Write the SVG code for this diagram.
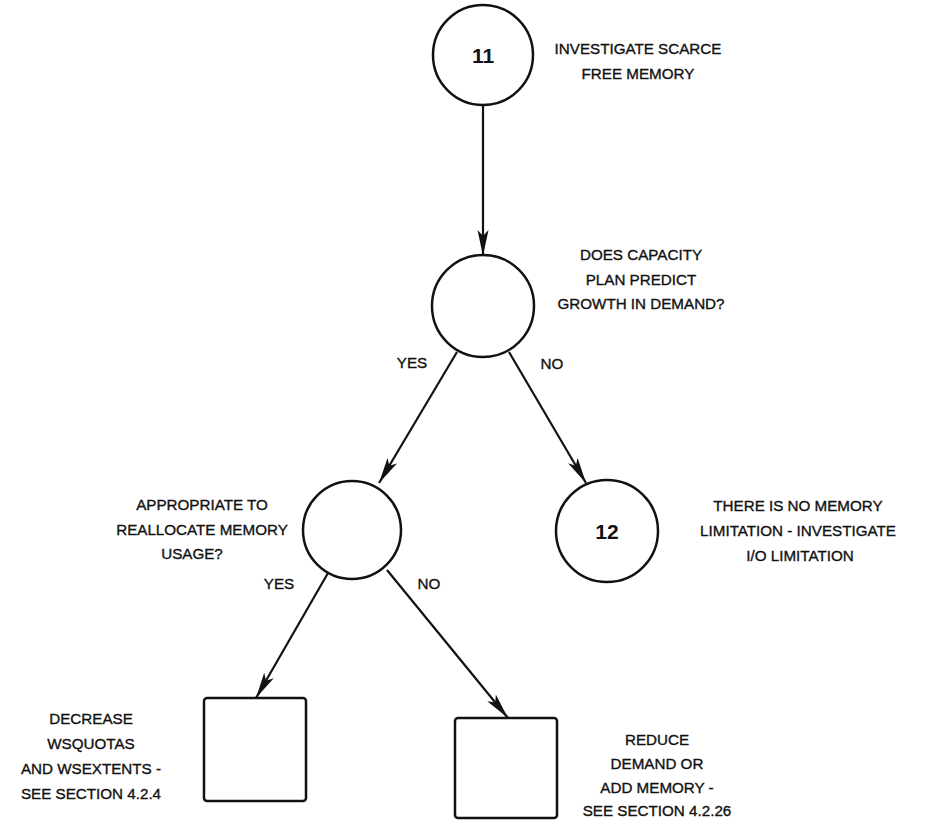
<svg xmlns="http://www.w3.org/2000/svg" width="939" height="820" viewBox="0 0 939 820">
<style>
.n{fill:#fff;stroke:#111;stroke-width:2.5}
.t{font-family:"Liberation Sans",Arial,sans-serif;font-size:15.2px;fill:#111;stroke:#111;stroke-width:0.35;text-anchor:middle}
.num{font-family:"Liberation Sans",Arial,sans-serif;font-size:21px;font-weight:bold;fill:#111;text-anchor:middle}
.c{stroke:#111;stroke-width:2.2;fill:none;marker-end:url(#ah)}
</style>
<defs>
<marker id="ah" markerUnits="userSpaceOnUse" markerWidth="28" markerHeight="12" refX="26" refY="6" orient="auto">
<path d="M0,0.5 L26,6 L0,11.5 L6,6 Z" fill="#111"/>
</marker>
</defs>
<rect width="939" height="820" fill="#fff"/>
<g id="connectors">
<line class="c" x1="483" y1="105" x2="483" y2="256"/>
<line class="c" x1="457" y1="352" x2="379" y2="483"/>
<line class="c" x1="509" y1="352" x2="586" y2="483"/>
<line class="c" x1="328" y1="573" x2="256" y2="698"/>
<line class="c" x1="387" y1="570" x2="508" y2="718"/>
</g>
<g id="node11">
<circle class="n" cx="483" cy="55" r="50"/>
<text class="num" x="483" y="63">11</text>
<text class="t" x="638" y="54">INVESTIGATE SCARCE</text>
<text class="t" x="638" y="79">FREE MEMORY</text>
</g>
<g id="decision1">
<circle class="n" cx="483" cy="306" r="51"/>
<text class="t" x="641" y="260">DOES CAPACITY</text>
<text class="t" x="641" y="285">PLAN PREDICT</text>
<text class="t" x="641" y="309">GROWTH IN DEMAND?</text>
<text class="t" x="412" y="368">YES</text>
<text class="t" x="552" y="369">NO</text>
</g>
<g id="decision2">
<circle class="n" cx="352" cy="530" r="49"/>
<text class="t" x="202" y="510">APPROPRIATE TO</text>
<text class="t" x="202" y="535">REALLOCATE MEMORY</text>
<text class="t" x="192" y="559">USAGE?</text>
<text class="t" x="279" y="589">YES</text>
<text class="t" x="429" y="589">NO</text>
</g>
<g id="node12">
<circle class="n" cx="607" cy="531" r="51"/>
<text class="num" x="607" y="539">12</text>
<text class="t" x="798" y="511">THERE IS NO MEMORY</text>
<text class="t" x="798" y="536">LIMITATION - INVESTIGATE</text>
<text class="t" x="800" y="561">I/O LIMITATION</text>
</g>
<g id="box1">
<rect class="n" x="204" y="698" width="102" height="103" rx="3"/>
<text class="t" x="91" y="724">DECREASE</text>
<text class="t" x="91" y="749">WSQUOTAS</text>
<text class="t" x="91" y="774">AND WSEXTENTS -</text>
<text class="t" x="91" y="799">SEE SECTION 4.2.4</text>
</g>
<g id="box2">
<rect class="n" x="455" y="718" width="102" height="100" rx="3"/>
<text class="t" x="657" y="745">REDUCE</text>
<text class="t" x="657" y="769">DEMAND OR</text>
<text class="t" x="657" y="793">ADD MEMORY -</text>
<text class="t" x="657" y="816">SEE SECTION 4.2.26</text>
</g>
</svg>
